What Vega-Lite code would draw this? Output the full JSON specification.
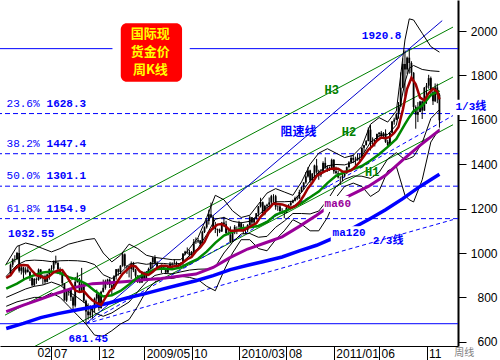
{
"$schema":"https://vega.github.io/schema/vega-lite/v6.json",
"width":458,"height":346,
"autosize":{"type":"none"},
"padding":{"left":0,"top":0,"right":42,"bottom":14},
"background":"white",
"config":{"view":{"stroke":null},"axis":{"grid":false}},
"datasets":{
"fib":[{"v":1628.3},{"v":1447.4},{"v":1301.1},{"v":1154.9}],
"hl":[{"v":1920.8},{"v":681.45}],
"chan":[{"d1":"2008-02-04","v1":945.5,"d2":"2012-01-29","v2":2018},{"d1":"2008-02-04","v1":720,"d2":"2012-01-29","v2":1793},{"d1":"2008-02-04","v1":508,"d2":"2012-01-29","v2":1578}],
"speed":[{"d1":"2008-10-24","v1":681.45,"d2":"2011-12-25","v2":2047}],
"speedd":[{"d1":"2008-10-24","v1":681.45,"d2":"2012-01-29","v2":1619.4},{"d1":"2008-10-24","v1":681.45,"d2":"2012-01-29","v2":1150.4}],
"candles":[
{"d":"2008-02-22","o":906,"h":953,"l":897,"c":947},{"d":"2008-02-29","o":947,"h":976,"l":935,"c":972},{"d":"2008-03-07","o":972,"h":990,"l":958,"c":973},{"d":"2008-03-14","o":973,"h":1005,"l":968,"c":1000},{"d":"2008-03-21","o":1000,"h":1032.55,"l":912,"c":920},{"d":"2008-03-28","o":920,"h":948,"l":903,"c":935},{"d":"2008-04-04","o":935,"h":938,"l":877,"c":912},{"d":"2008-04-11","o":912,"h":936,"l":903,"c":925},{"d":"2008-04-18","o":925,"h":937,"l":912,"c":914},{"d":"2008-04-25","o":914,"h":920,"l":874,"c":889},
{"d":"2008-05-02","o":889,"h":890,"l":850,"c":855},{"d":"2008-05-09","o":855,"h":887,"l":850,"c":883},{"d":"2008-05-16","o":883,"h":890,"l":861,"c":880},{"d":"2008-05-23","o":880,"h":930,"l":875,"c":925},{"d":"2008-05-30","o":925,"h":928,"l":882,"c":887},{"d":"2008-06-06","o":887,"h":902,"l":858,"c":895},{"d":"2008-06-13","o":895,"h":903,"l":860,"c":870},{"d":"2008-06-20","o":870,"h":907,"l":868,"c":903},{"d":"2008-06-27","o":903,"h":930,"l":880,"c":928},{"d":"2008-07-04","o":928,"h":945,"l":918,"c":930},
{"d":"2008-07-11","o":930,"h":966,"l":921,"c":962},{"d":"2008-07-18","o":962,"h":988,"l":948,"c":955},{"d":"2008-07-25","o":955,"h":962,"l":905,"c":928},{"d":"2008-08-01","o":928,"h":935,"l":900,"c":912},{"d":"2008-08-08","o":912,"h":914,"l":852,"c":864},{"d":"2008-08-15","o":864,"h":865,"l":786,"c":786},{"d":"2008-08-22","o":786,"h":838,"l":780,"c":829},{"d":"2008-08-29","o":829,"h":840,"l":808,"c":833},{"d":"2008-09-05","o":833,"h":836,"l":784,"c":801},{"d":"2008-09-12","o":801,"h":807,"l":740,"c":763},
{"d":"2008-09-19","o":763,"h":889,"l":755,"c":870},{"d":"2008-09-26","o":870,"h":912,"l":866,"c":880},{"d":"2008-10-03","o":880,"h":888,"l":823,"c":830},{"d":"2008-10-10","o":830,"h":933,"l":825,"c":860},{"d":"2008-10-17","o":860,"h":870,"l":776,"c":785},{"d":"2008-10-24","o":785,"h":790,"l":681.45,"c":737},{"d":"2008-10-31","o":737,"h":773,"l":700,"c":720},{"d":"2008-11-07","o":720,"h":764,"l":706,"c":735},{"d":"2008-11-14","o":735,"h":757,"l":705,"c":750},{"d":"2008-11-21","o":750,"h":800,"l":732,"c":795},
{"d":"2008-11-28","o":795,"h":835,"l":780,"c":815},{"d":"2008-12-05","o":815,"h":820,"l":740,"c":752},{"d":"2008-12-12","o":752,"h":830,"l":749,"c":825},{"d":"2008-12-19","o":825,"h":880,"l":822,"c":843},{"d":"2008-12-26","o":843,"h":880,"l":835,"c":872},{"d":"2009-01-02","o":872,"h":884,"l":857,"c":880},{"d":"2009-01-09","o":880,"h":886,"l":842,"c":855},{"d":"2009-01-16","o":855,"h":860,"l":806,"c":838},{"d":"2009-01-23","o":838,"h":900,"l":836,"c":895},{"d":"2009-01-30","o":895,"h":928,"l":880,"c":927},
{"d":"2009-02-06","o":927,"h":930,"l":898,"c":915},{"d":"2009-02-13","o":915,"h":945,"l":905,"c":943},{"d":"2009-02-20","o":943,"h":1005,"l":938,"c":994},{"d":"2009-02-27","o":994,"h":998,"l":933,"c":942},{"d":"2009-03-06","o":942,"h":945,"l":906,"c":940},{"d":"2009-03-13","o":940,"h":945,"l":890,"c":928},{"d":"2009-03-20","o":928,"h":962,"l":883,"c":953},{"d":"2009-03-27","o":953,"h":960,"l":914,"c":923},{"d":"2009-04-03","o":923,"h":928,"l":870,"c":898},{"d":"2009-04-10","o":898,"h":900,"l":865,"c":881},
{"d":"2009-04-17","o":881,"h":891,"l":864,"c":867},{"d":"2009-04-24","o":867,"h":917,"l":865,"c":912},{"d":"2009-05-01","o":912,"h":916,"l":880,"c":884},{"d":"2009-05-08","o":884,"h":919,"l":880,"c":915},{"d":"2009-05-15","o":915,"h":934,"l":909,"c":927},{"d":"2009-05-22","o":927,"h":960,"l":926,"c":958},{"d":"2009-05-29","o":958,"h":983,"l":930,"c":979},{"d":"2009-06-05","o":979,"h":990,"l":948,"c":953},{"d":"2009-06-12","o":953,"h":963,"l":935,"c":937},{"d":"2009-06-19","o":937,"h":945,"l":925,"c":933},
{"d":"2009-06-26","o":933,"h":948,"l":910,"c":942},{"d":"2009-07-03","o":942,"h":945,"l":925,"c":932},{"d":"2009-07-10","o":932,"h":934,"l":905,"c":912},{"d":"2009-07-17","o":912,"h":940,"l":910,"c":937},{"d":"2009-07-24","o":937,"h":960,"l":932,"c":952},{"d":"2009-07-31","o":952,"h":958,"l":928,"c":954},{"d":"2009-08-07","o":954,"h":972,"l":950,"c":956},{"d":"2009-08-14","o":956,"h":962,"l":935,"c":949},{"d":"2009-08-21","o":949,"h":953,"l":931,"c":952},{"d":"2009-08-28","o":952,"h":958,"l":935,"c":956},
{"d":"2009-09-04","o":956,"h":1000,"l":946,"c":997},{"d":"2009-09-11","o":997,"h":1010,"l":990,"c":1006},{"d":"2009-09-18","o":1006,"h":1025,"l":995,"c":1005},{"d":"2009-09-25","o":1005,"h":1015,"l":985,"c":990},{"d":"2009-10-02","o":990,"h":1009,"l":988,"c":1003},{"d":"2009-10-09","o":1003,"h":1063,"l":1000,"c":1049},{"d":"2009-10-16","o":1049,"h":1070,"l":1041,"c":1052},{"d":"2009-10-23","o":1052,"h":1068,"l":1045,"c":1057},{"d":"2009-10-30","o":1057,"h":1058,"l":1025,"c":1041},{"d":"2009-11-06","o":1041,"h":1100,"l":1040,"c":1095},
{"d":"2009-11-13","o":1095,"h":1120,"l":1090,"c":1116},{"d":"2009-11-20","o":1116,"h":1155,"l":1110,"c":1144},{"d":"2009-11-27","o":1144,"h":1195,"l":1128,"c":1175},{"d":"2009-12-04","o":1175,"h":1227,"l":1158,"c":1162},{"d":"2009-12-11","o":1162,"h":1170,"l":1105,"c":1117},{"d":"2009-12-18","o":1117,"h":1140,"l":1090,"c":1108},{"d":"2009-12-25","o":1108,"h":1110,"l":1075,"c":1104},{"d":"2010-01-01","o":1104,"h":1110,"l":1090,"c":1097},{"d":"2010-01-08","o":1097,"h":1140,"l":1095,"c":1137},{"d":"2010-01-15","o":1137,"h":1163,"l":1120,"c":1130},
{"d":"2010-01-22","o":1130,"h":1145,"l":1085,"c":1090},{"d":"2010-01-29","o":1090,"h":1113,"l":1080,"c":1082},{"d":"2010-02-05","o":1082,"h":1120,"l":1045,"c":1050},{"d":"2010-02-12","o":1050,"h":1094,"l":1050,"c":1093},{"d":"2010-02-19","o":1093,"h":1126,"l":1085,"c":1118},{"d":"2010-02-26","o":1118,"h":1120,"l":1085,"c":1118},{"d":"2010-03-05","o":1118,"h":1145,"l":1110,"c":1134},{"d":"2010-03-12","o":1134,"h":1140,"l":1100,"c":1102},{"d":"2010-03-19","o":1102,"h":1130,"l":1085,"c":1108},{"d":"2010-03-26","o":1108,"h":1112,"l":1087,"c":1104},
{"d":"2010-04-02","o":1104,"h":1130,"l":1095,"c":1126},{"d":"2010-04-09","o":1126,"h":1168,"l":1123,"c":1161},{"d":"2010-04-16","o":1161,"h":1162,"l":1125,"c":1137},{"d":"2010-04-23","o":1137,"h":1158,"l":1130,"c":1156},{"d":"2010-04-30","o":1156,"h":1180,"l":1150,"c":1179},{"d":"2010-05-07","o":1179,"h":1212,"l":1164,"c":1210},{"d":"2010-05-14","o":1210,"h":1249,"l":1205,"c":1229},{"d":"2010-05-21","o":1229,"h":1232,"l":1166,"c":1176},{"d":"2010-05-28","o":1176,"h":1217,"l":1170,"c":1212},{"d":"2010-06-04","o":1212,"h":1222,"l":1195,"c":1218},
{"d":"2010-06-11","o":1218,"h":1250,"l":1207,"c":1228},{"d":"2010-06-18","o":1228,"h":1262,"l":1220,"c":1256},{"d":"2010-06-25","o":1256,"h":1265,"l":1226,"c":1256},{"d":"2010-07-02","o":1256,"h":1262,"l":1195,"c":1209},{"d":"2010-07-09","o":1209,"h":1215,"l":1190,"c":1210},{"d":"2010-07-16","o":1210,"h":1216,"l":1185,"c":1189},{"d":"2010-07-23","o":1189,"h":1202,"l":1176,"c":1189},{"d":"2010-07-30","o":1189,"h":1193,"l":1157,"c":1181},{"d":"2010-08-06","o":1181,"h":1213,"l":1180,"c":1204},{"d":"2010-08-13","o":1204,"h":1220,"l":1193,"c":1215},
{"d":"2010-08-20","o":1215,"h":1235,"l":1213,"c":1227},{"d":"2010-08-27","o":1227,"h":1241,"l":1224,"c":1236},{"d":"2010-09-03","o":1236,"h":1254,"l":1232,"c":1248},{"d":"2010-09-10","o":1248,"h":1259,"l":1238,"c":1246},{"d":"2010-09-17","o":1246,"h":1285,"l":1244,"c":1275},{"d":"2010-09-24","o":1275,"h":1299,"l":1272,"c":1297},{"d":"2010-10-01","o":1297,"h":1319,"l":1285,"c":1318},{"d":"2010-10-08","o":1318,"h":1365,"l":1312,"c":1345},{"d":"2010-10-15","o":1345,"h":1387,"l":1340,"c":1372},{"d":"2010-10-22","o":1372,"h":1375,"l":1316,"c":1326},
{"d":"2010-10-29","o":1326,"h":1360,"l":1320,"c":1358},{"d":"2010-11-05","o":1358,"h":1398,"l":1325,"c":1394},{"d":"2010-11-12","o":1394,"h":1424,"l":1357,"c":1366},{"d":"2010-11-19","o":1366,"h":1375,"l":1330,"c":1350},{"d":"2010-11-26","o":1350,"h":1378,"l":1342,"c":1364},{"d":"2010-12-03","o":1364,"h":1413,"l":1360,"c":1406},{"d":"2010-12-10","o":1406,"h":1431,"l":1380,"c":1385},{"d":"2010-12-17","o":1385,"h":1395,"l":1366,"c":1377},{"d":"2010-12-24","o":1377,"h":1390,"l":1370,"c":1380},{"d":"2010-12-31","o":1380,"h":1425,"l":1378,"c":1420},
{"d":"2011-01-07","o":1420,"h":1423,"l":1357,"c":1368},{"d":"2011-01-14","o":1368,"h":1389,"l":1355,"c":1360},{"d":"2011-01-21","o":1360,"h":1372,"l":1336,"c":1341},{"d":"2011-01-28","o":1341,"h":1345,"l":1308,"c":1340},{"d":"2011-02-04","o":1340,"h":1357,"l":1324,"c":1348},{"d":"2011-02-11","o":1348,"h":1367,"l":1342,"c":1360},{"d":"2011-02-18","o":1360,"h":1390,"l":1356,"c":1387},{"d":"2011-02-25","o":1387,"h":1414,"l":1381,"c":1409},{"d":"2011-03-04","o":1409,"h":1440,"l":1403,"c":1428},{"d":"2011-03-11","o":1428,"h":1444,"l":1405,"c":1420},
{"d":"2011-03-18","o":1420,"h":1434,"l":1381,"c":1418},{"d":"2011-03-25","o":1418,"h":1448,"l":1416,"c":1430},{"d":"2011-04-01","o":1430,"h":1447,"l":1415,"c":1429},{"d":"2011-04-08","o":1429,"h":1476,"l":1428,"c":1474},{"d":"2011-04-15","o":1474,"h":1487,"l":1453,"c":1486},{"d":"2011-04-22","o":1486,"h":1509,"l":1484,"c":1504},{"d":"2011-04-29","o":1504,"h":1566,"l":1504,"c":1556},{"d":"2011-05-06","o":1556,"h":1577,"l":1462,"c":1491},{"d":"2011-05-13","o":1491,"h":1521,"l":1479,"c":1492},{"d":"2011-05-20","o":1492,"h":1512,"l":1480,"c":1509},
{"d":"2011-05-27","o":1509,"h":1538,"l":1504,"c":1536},{"d":"2011-06-03","o":1536,"h":1545,"l":1520,"c":1542},{"d":"2011-06-10","o":1542,"h":1550,"l":1522,"c":1529},{"d":"2011-06-17","o":1529,"h":1545,"l":1515,"c":1539},{"d":"2011-06-24","o":1539,"h":1557,"l":1496,"c":1501},{"d":"2011-07-01","o":1501,"h":1510,"l":1478,"c":1485},{"d":"2011-07-08","o":1485,"h":1545,"l":1483,"c":1542},{"d":"2011-07-15","o":1542,"h":1595,"l":1540,"c":1592},{"d":"2011-07-22","o":1592,"h":1610,"l":1578,"c":1601},{"d":"2011-07-29","o":1601,"h":1632,"l":1600,"c":1625},
{"d":"2011-08-05","o":1625,"h":1680,"l":1605,"c":1660},{"d":"2011-08-12","o":1660,"h":1814,"l":1660,"c":1745},{"d":"2011-08-19","o":1745,"h":1877,"l":1742,"c":1852},{"d":"2011-08-26","o":1852,"h":1913,"l":1705,"c":1827},{"d":"2011-09-02","o":1827,"h":1885,"l":1807,"c":1880},{"d":"2011-09-09","o":1880,"h":1920.8,"l":1808,"c":1856},{"d":"2011-09-16","o":1856,"h":1864,"l":1777,"c":1812},{"d":"2011-09-23","o":1812,"h":1815,"l":1630,"c":1658},{"d":"2011-09-30","o":1658,"h":1665,"l":1560,"c":1623},{"d":"2011-10-07","o":1623,"h":1680,"l":1590,"c":1635},
{"d":"2011-10-14","o":1635,"h":1686,"l":1635,"c":1683},{"d":"2011-10-21","o":1683,"h":1687,"l":1604,"c":1642},{"d":"2011-10-28","o":1642,"h":1748,"l":1640,"c":1745},{"d":"2011-11-04","o":1745,"h":1766,"l":1672,"c":1754},{"d":"2011-11-11","o":1754,"h":1803,"l":1740,"c":1788},{"d":"2011-11-18","o":1788,"h":1795,"l":1705,"c":1724},{"d":"2011-11-25","o":1724,"h":1730,"l":1667,"c":1684},{"d":"2011-12-02","o":1684,"h":1764,"l":1680,"c":1746},{"d":"2011-12-09","o":1746,"h":1763,"l":1675,"c":1713},{"d":"2011-12-16","o":1713,"h":1720,"l":1565,"c":1598}
],
"red":[
{"d":"2008-02-08","v":888},{"d":"2008-02-22","v":900},{"d":"2008-03-07","v":928},{"d":"2008-03-21","v":944},{"d":"2008-04-04","v":946},{"d":"2008-04-18","v":944},{"d":"2008-05-02","v":919},{"d":"2008-05-16","v":899},{"d":"2008-05-30","v":895},{"d":"2008-06-13","v":886},{"d":"2008-06-27","v":896},{"d":"2008-07-11","v":913},{"d":"2008-07-25","v":921},{"d":"2008-08-08","v":923},{"d":"2008-08-22","v":896},{"d":"2008-09-05","v":864},{"d":"2008-09-19","v":832},{"d":"2008-10-03","v":824},{"d":"2008-10-17","v":828},{"d":"2008-10-31","v":806},{"d":"2008-11-14","v":787},{"d":"2008-11-28","v":775},{"d":"2008-12-12","v":766},{"d":"2008-12-26","v":798},
{"d":"2009-01-09","v":830},{"d":"2009-01-23","v":845},{"d":"2009-02-06","v":878},{"d":"2009-02-20","v":906},{"d":"2009-03-06","v":924},{"d":"2009-03-20","v":943},{"d":"2009-04-03","v":940},{"d":"2009-04-17","v":917},{"d":"2009-05-01","v":906},{"d":"2009-05-15","v":901},{"d":"2009-05-29","v":915},{"d":"2009-06-12","v":933},{"d":"2009-06-26","v":943},{"d":"2009-07-10","v":943},{"d":"2009-07-24","v":937},{"d":"2009-08-07","v":940},{"d":"2009-08-21","v":943},{"d":"2009-09-04","v":957},{"d":"2009-09-18","v":972},{"d":"2009-10-02","v":982},{"d":"2009-10-16","v":1007},{"d":"2009-10-30","v":1025},{"d":"2009-11-13","v":1050},{"d":"2009-11-27","v":1091},{"d":"2009-12-11","v":1113},{"d":"2009-12-25","v":1128},
{"d":"2010-01-08","v":1131},{"d":"2010-01-22","v":1118},{"d":"2010-02-05","v":1100},{"d":"2010-02-19","v":1100},{"d":"2010-03-05","v":1102},{"d":"2010-03-19","v":1101},{"d":"2010-04-02","v":1113},{"d":"2010-04-16","v":1124},{"d":"2010-04-30","v":1134},{"d":"2010-05-14","v":1163},{"d":"2010-05-28","v":1183},{"d":"2010-06-11","v":1201},{"d":"2010-06-25","v":1223},{"d":"2010-07-09","v":1221},{"d":"2010-07-23","v":1219},{"d":"2010-08-06","v":1212},{"d":"2010-08-20","v":1203},{"d":"2010-09-03","v":1211},{"d":"2010-09-17","v":1229},{"d":"2010-10-01","v":1258},{"d":"2010-10-15","v":1292},{"d":"2010-10-29","v":1317},{"d":"2010-11-12","v":1347},{"d":"2010-11-26","v":1359},{"d":"2010-12-10","v":1369},{"d":"2010-12-24","v":1378},
{"d":"2011-01-07","v":1381},{"d":"2011-01-21","v":1380},{"d":"2011-02-04","v":1367},{"d":"2011-02-18","v":1366},{"d":"2011-03-04","v":1372},{"d":"2011-03-18","v":1389},{"d":"2011-04-01","v":1410},{"d":"2011-04-15","v":1437},{"d":"2011-04-29","v":1465},{"d":"2011-05-13","v":1483},{"d":"2011-05-27","v":1506},{"d":"2011-06-10","v":1520},{"d":"2011-06-24","v":1517},{"d":"2011-07-08","v":1523},{"d":"2011-07-22","v":1541},{"d":"2011-08-05","v":1568},{"d":"2011-08-19","v":1645},{"d":"2011-09-02","v":1740},{"d":"2011-09-16","v":1790},{"d":"2011-09-30","v":1760},{"d":"2011-10-14","v":1700},{"d":"2011-10-28","v":1688},{"d":"2011-11-11","v":1720},{"d":"2011-11-25","v":1740},{"d":"2011-12-09","v":1728},{"d":"2011-12-16","v":1692}
],
"mid":[
{"d":"2008-02-08","m20":840,"u1":950,"u2":895,"l2":800,"l1":760},{"d":"2008-03-14","m20":862,"u1":1030,"u2":946,"l2":821,"l1":780},{"d":"2008-04-11","m20":885,"u1":1045,"u2":965,"l2":838,"l1":790},{"d":"2008-05-09","m20":900,"u1":1035,"u2":968,"l2":850,"l1":800},{"d":"2008-06-06","m20":912,"u1":1020,"u2":966,"l2":856,"l1":800},{"d":"2008-07-04","m20":917,"u1":1005,"u2":961,"l2":869,"l1":820},{"d":"2008-08-01","m20":910,"u1":1020,"u2":965,"l2":855,"l1":800},{"d":"2008-08-29","m20":891,"u1":1040,"u2":966,"l2":826,"l1":760},{"d":"2008-09-26","m20":880,"u1":1050,"u2":965,"l2":800,"l1":720},{"d":"2008-10-24","m20":861,"u1":1060,"u2":961,"l2":771,"l1":680},{"d":"2008-11-21","m20":830,"u1":1065,"u2":948,"l2":730,"l1":630},{"d":"2008-12-19","m20":804,"u1":1000,"u2":902,"l2":715,"l1":625},
{"d":"2009-01-16","m20":810,"u1":960,"u2":885,"l2":730,"l1":650},{"d":"2009-02-13","m20":829,"u1":990,"u2":910,"l2":755,"l1":680},{"d":"2009-03-13","m20":858,"u1":1040,"u2":949,"l2":779,"l1":700},{"d":"2009-04-10","m20":891,"u1":1020,"u2":956,"l2":826,"l1":760},{"d":"2009-05-08","m20":908,"u1":990,"u2":949,"l2":869,"l1":830},{"d":"2009-06-05","m20":927,"u1":980,"u2":954,"l2":899,"l1":870},{"d":"2009-07-03","m20":930,"u1":975,"u2":953,"l2":908,"l1":885},{"d":"2009-07-31","m20":927,"u1":970,"u2":949,"l2":906,"l1":885},{"d":"2009-08-28","m20":935,"u1":970,"u2":953,"l2":915,"l1":895},{"d":"2009-09-25","m20":956,"u1":1020,"u2":988,"l2":923,"l1":890},{"d":"2009-10-23","m20":974,"u1":1070,"u2":1022,"l2":927,"l1":880},{"d":"2009-11-20","m20":1006,"u1":1160,"u2":1083,"l2":928,"l1":850},{"d":"2009-12-18","m20":1046,"u1":1260,"u2":1153,"l2":938,"l1":830},
{"d":"2010-01-15","m20":1079,"u1":1240,"u2":1160,"l2":1000,"l1":920},{"d":"2010-02-12","m20":1095,"u1":1190,"u2":1143,"l2":1048,"l1":1000},{"d":"2010-03-12","m20":1111,"u1":1160,"u2":1136,"l2":1086,"l1":1060},{"d":"2010-04-09","m20":1116,"u1":1170,"u2":1143,"l2":1088,"l1":1060},{"d":"2010-05-07","m20":1122,"u1":1220,"u2":1171,"l2":1071,"l1":1020},{"d":"2010-06-04","m20":1140,"u1":1270,"u2":1205,"l2":1075,"l1":1010},{"d":"2010-07-02","m20":1172,"u1":1290,"u2":1231,"l2":1116,"l1":1060},{"d":"2010-07-30","m20":1187,"u1":1275,"u2":1231,"l2":1144,"l1":1100},{"d":"2010-08-27","m20":1206,"u1":1260,"u2":1233,"l2":1178,"l1":1150},{"d":"2010-09-24","m20":1225,"u1":1320,"u2":1273,"l2":1178,"l1":1130},{"d":"2010-10-22","m20":1251,"u1":1400,"u2":1326,"l2":1176,"l1":1100},{"d":"2010-11-19","m20":1277,"u1":1450,"u2":1364,"l2":1189,"l1":1100},{"d":"2010-12-17","m20":1315,"u1":1470,"u2":1393,"l2":1238,"l1":1160},
{"d":"2011-01-14","m20":1348,"u1":1450,"u2":1399,"l2":1299,"l1":1250},{"d":"2011-02-11","m20":1364,"u1":1430,"u2":1397,"l2":1332,"l1":1300},{"d":"2011-03-11","m20":1378,"u1":1440,"u2":1409,"l2":1347,"l1":1315},{"d":"2011-04-08","m20":1392,"u1":1480,"u2":1436,"l2":1346,"l1":1300},{"d":"2011-05-06","m20":1417,"u1":1580,"u2":1499,"l2":1336,"l1":1255},{"d":"2011-06-03","m20":1445,"u1":1610,"u2":1528,"l2":1363,"l1":1280},{"d":"2011-07-01","m20":1478,"u1":1590,"u2":1534,"l2":1424,"l1":1370},{"d":"2011-07-29","m20":1514,"u1":1640,"u2":1577,"l2":1452,"l1":1390},{"d":"2011-08-26","m20":1581,"u1":1960,"u2":1770,"l2":1420,"l1":1260},{"d":"2011-09-09","m20":1612,"u1":2055,"u2":1833,"l2":1426,"l1":1240},{"d":"2011-09-23","m20":1639,"u1":2050,"u2":1845,"l2":1435,"l1":1230},{"d":"2011-10-21","m20":1664,"u1":1990,"u2":1827,"l2":1497,"l1":1330},{"d":"2011-11-18","m20":1712,"u1":1930,"u2":1821,"l2":1606,"l1":1500},{"d":"2011-12-16","m20":1731,"u1":1905,"u2":1818,"l2":1646,"l1":1560}
],
"slow":[
{"d":"2008-02-08","m60":736,"m120":660},{"d":"2008-04-04","m60":765,"m120":683},{"d":"2008-05-30","m60":792,"m120":709},{"d":"2008-07-25","m60":820,"m120":727},{"d":"2008-09-19","m60":845,"m120":742},{"d":"2008-11-14","m60":862,"m120":757},{"d":"2009-01-09","m60":866,"m120":776},{"d":"2009-03-06","m60":872,"m120":797},{"d":"2009-05-01","m60":879,"m120":816},{"d":"2009-06-26","m60":885,"m120":836},{"d":"2009-08-21","m60":895,"m120":856},{"d":"2009-10-16","m60":905,"m120":875},{"d":"2009-12-11","m60":935,"m120":898},
{"d":"2010-02-05","m60":980,"m120":925},{"d":"2010-04-02","m60":1018,"m120":945},{"d":"2010-05-28","m60":1045,"m120":963},{"d":"2010-07-23","m60":1073,"m120":982},{"d":"2010-09-17","m60":1120,"m120":1010},{"d":"2010-11-12","m60":1170,"m120":1035},{"d":"2011-01-07","m60":1225,"m120":1068},{"d":"2011-03-04","m60":1262,"m120":1108},{"d":"2011-04-29","m60":1300,"m120":1150},{"d":"2011-06-24","m60":1350,"m120":1195},{"d":"2011-08-19","m60":1420,"m120":1245},{"d":"2011-10-14","m60":1485,"m120":1300},{"d":"2011-12-16","m60":1554,"m120":1355}
],
"wbox":[{"d1":"2009-01-18","d2":"2009-09-26","v1":1734,"v2":2072},{"d1":"2012-01-28","d2":"2012-05-22","v1":1622,"v2":1690},{"d1":"2010-12-05","d2":"2011-02-24","v1":1185,"v2":1257},{"d1":"2010-12-28","d2":"2011-04-24","v1":1054,"v2":1121}],
"tbox":[{"d1":"2009-02-14","d2":"2009-09-01","v1":1772,"v2":2035}],
"pct":[{"d":"2008-02-09","v":1670,"t":"23.6%"},{"d":"2008-02-09","v":1489,"t":"38.2%"},{"d":"2008-02-09","v":1348,"t":"50.0%"},{"d":"2008-02-09","v":1197,"t":"61.8%"}],
"bluelab":[{"d":"2008-06-18","v":1670,"t":"1628.3"},{"d":"2008-06-18","v":1489,"t":"1447.4"},{"d":"2008-06-18","v":1348,"t":"1301.1"},{"d":"2008-06-18","v":1197,"t":"1154.9"},{"d":"2008-02-14","v":1085,"t":"1032.55"},{"d":"2008-08-28","v":612,"t":"681.45"},{"d":"2011-04-08","v":1978,"t":"1920.8"},{"d":"2012-02-06","v":1657,"t":"1/3线"},{"d":"2011-05-13","v":1052,"t":"2/3线"},{"d":"2011-01-03","v":1088,"t":"ma120"}],
"zsx":[{"d":"2010-07-18","v":1547,"t":"阻速线"}],
"hlab":[{"d":"2010-12-08","v":1734,"t":"H3"},{"d":"2011-02-02","v":1543,"t":"H2"},{"d":"2011-04-18","v":1363,"t":"H1"}],
"plab":[{"d":"2010-12-08","v":1223,"t":"ma60"}],
"title":[{"d":"2009-05-21","v":2016,"t":"国际现\n货金价\n周K线"}],
"x02":[{"d":"2008-07-02","v":549,"t":"02"}],
"zx":[{"d":"2012-02-02","v":549,"t":"周线"}]
},
"layer":[
{"data":{"name":"fib"},"mark":{"type":"rule","color":"#0000ff","strokeWidth":1,"strokeDash":[5,3]},
 "encoding":{"y":{"field":"v","type":"quantitative","scale":{"domain":[581,2140],"nice":false,"zero":false},
  "axis":{"orient":"right","title":null,"values":[600,800,1000,1200,1400,1600,1800,2000],"format":"d","tickSize":8,"tickColor":"black","domainColor":"black","domainWidth":2,"labelAlign":"right","labelPadding":31,"labelFont":"Liberation Sans","labelFontSize":12,"labelColor":"black","labelBaseline":"middle","labelOverlap":false,"labelBound":false,"labelFlush":false,"grid":false}}}},
{"data":{"name":"hl"},"mark":{"type":"rule","color":"#0000ff","strokeWidth":1},"encoding":{"y":{"field":"v","type":"quantitative"}}},
{"data":{"name":"chan","format":{"parse":{"d1":"date","d2":"date"}}},"mark":{"type":"rule","color":"#008000","strokeWidth":1,"clip":true},
 "encoding":{"x":{"field":"d1","type":"temporal","scale":{"type":"utc","nice":false,"domain":[{"year":2008,"month":2,"date":4,"utc":true},{"year":2012,"month":1,"date":29,"utc":true}]},
  "axis":{"orient":"bottom","title":null,"values":[{"year":2008,"month":7,"date":4,"utc":true},{"year":2008,"month":12,"date":5,"utc":true},{"year":2009,"month":5,"date":1,"utc":true},{"year":2009,"month":10,"date":2,"utc":true},{"year":2010,"month":3,"date":5,"utc":true},{"year":2010,"month":8,"date":6,"utc":true},{"year":2011,"month":1,"date":7,"utc":true},{"year":2011,"month":6,"date":3,"utc":true},{"year":2011,"month":11,"date":4,"utc":true}],
   "labelExpr":"utcmonth(datum.value) < 5 ? utcFormat(datum.value, '%Y/%m') : utcFormat(datum.value, '%m')","tickSize":14,"tickColor":"black","domainColor":"black","domainWidth":1,"labelAlign":"left","labelBaseline":"top","labelPadding":-12,"labelOffset":2,"labelFont":"Liberation Sans","labelFontSize":12,"labelColor":"black","labelOverlap":false,"labelBound":false,"labelFlush":false,"grid":false}},
  "x2":{"field":"d2"},"y":{"field":"v1","type":"quantitative"},"y2":{"field":"v2"}}},
{"data":{"name":"speed","format":{"parse":{"d1":"date","d2":"date"}}},"mark":{"type":"rule","color":"#0000cc","strokeWidth":1,"clip":true},
 "encoding":{"x":{"field":"d1","type":"temporal"},"x2":{"field":"d2"},"y":{"field":"v1","type":"quantitative"},"y2":{"field":"v2"}}},
{"data":{"name":"speedd","format":{"parse":{"d1":"date","d2":"date"}}},"mark":{"type":"rule","color":"#0000ff","strokeWidth":1,"strokeDash":[4,3],"clip":true},
 "encoding":{"x":{"field":"d1","type":"temporal"},"x2":{"field":"d2"},"y":{"field":"v1","type":"quantitative"},"y2":{"field":"v2"}}},
{"data":{"name":"mid"},"transform":[{"fold":["u1","u2","l2","l1"],"as":["k","bv"]}],"mark":{"type":"line","color":"black","strokeWidth":1},
 "encoding":{"x":{"field":"d","type":"temporal"},"y":{"field":"bv","type":"quantitative"},"detail":{"field":"k"}}},
{"data":{"name":"candles"},"mark":{"type":"rule","color":"black","strokeWidth":1},
 "encoding":{"x":{"field":"d","type":"temporal"},"y":{"field":"l","type":"quantitative"},"y2":{"field":"h"}}},
{"data":{"name":"candles"},"mark":{"type":"bar","color":"black","size":1.8},
 "encoding":{"x":{"field":"d","type":"temporal"},"y":{"field":"o","type":"quantitative"},"y2":{"field":"c"}}},
{"data":{"name":"slow"},"mark":{"type":"line","color":"#0000ff","strokeWidth":3.5},
 "encoding":{"x":{"field":"d","type":"temporal"},"y":{"field":"m120","type":"quantitative"}}},
{"data":{"name":"slow"},"mark":{"type":"line","color":"#990099","strokeWidth":3},
 "encoding":{"x":{"field":"d","type":"temporal"},"y":{"field":"m60","type":"quantitative"}}},
{"data":{"name":"mid"},"mark":{"type":"line","color":"#008800","strokeWidth":2.5},
 "encoding":{"x":{"field":"d","type":"temporal"},"y":{"field":"m20","type":"quantitative"}}},
{"data":{"name":"red"},"mark":{"type":"line","color":"#a00000","strokeWidth":2.5},
 "encoding":{"x":{"field":"d","type":"temporal"},"y":{"field":"v","type":"quantitative"}}},
{"data":{"name":"wbox","format":{"parse":{"d1":"date","d2":"date"}}},"mark":{"type":"rect","color":"white"},
 "encoding":{"x":{"field":"d1","type":"temporal"},"x2":{"field":"d2"},"y":{"field":"v1","type":"quantitative"},"y2":{"field":"v2"}}},
{"data":{"name":"tbox","format":{"parse":{"d1":"date","d2":"date"}}},"mark":{"type":"rect","color":"#ff0000","cornerRadius":6},
 "encoding":{"x":{"field":"d1","type":"temporal"},"x2":{"field":"d2"},"y":{"field":"v1","type":"quantitative"},"y2":{"field":"v2"}}},
{"data":{"name":"pct"},"mark":{"type":"text","color":"#0000ff","font":"Liberation Mono","fontSize":11,"align":"left","baseline":"middle"},
 "encoding":{"x":{"field":"d","type":"temporal"},"y":{"field":"v","type":"quantitative"},"text":{"field":"t"}}},
{"data":{"name":"bluelab"},"mark":{"type":"text","color":"#0000ff","font":"Liberation Mono, Noto Sans CJK SC","fontSize":11,"fontWeight":"bold","align":"left","baseline":"middle"},
 "encoding":{"x":{"field":"d","type":"temporal"},"y":{"field":"v","type":"quantitative"},"text":{"field":"t"}}},
{"data":{"name":"zsx"},"mark":{"type":"text","color":"#0000ff","font":"Noto Sans CJK SC","fontSize":12,"fontWeight":"bold","align":"left","baseline":"middle"},
 "encoding":{"x":{"field":"d","type":"temporal"},"y":{"field":"v","type":"quantitative"},"text":{"field":"t"}}},
{"data":{"name":"hlab"},"mark":{"type":"text","color":"#008000","font":"Liberation Mono","fontSize":12,"fontWeight":"bold","align":"left","baseline":"middle"},
 "encoding":{"x":{"field":"d","type":"temporal"},"y":{"field":"v","type":"quantitative"},"text":{"field":"t"}}},
{"data":{"name":"plab"},"mark":{"type":"text","color":"#990099","font":"Liberation Mono","fontSize":11,"fontWeight":"bold","align":"left","baseline":"middle"},
 "encoding":{"x":{"field":"d","type":"temporal"},"y":{"field":"v","type":"quantitative"},"text":{"field":"t"}}},
{"data":{"name":"title"},"mark":{"type":"text","color":"#ffff00","font":"Noto Sans CJK SC","fontSize":13,"fontWeight":"bold","align":"center","baseline":"top","lineBreak":"\n","lineHeight":18},
 "encoding":{"x":{"field":"d","type":"temporal"},"y":{"field":"v","type":"quantitative"},"text":{"field":"t"}}},
{"data":{"name":"x02"},"mark":{"type":"text","color":"black","font":"Liberation Sans","fontSize":12,"align":"right","baseline":"middle"},
 "encoding":{"x":{"field":"d","type":"temporal"},"y":{"field":"v","type":"quantitative"},"text":{"field":"t"}}},
{"data":{"name":"zx"},"mark":{"type":"text","color":"#808080","font":"Noto Sans CJK SC","fontSize":10,"align":"left","baseline":"middle"},
 "encoding":{"x":{"field":"d","type":"temporal"},"y":{"field":"v","type":"quantitative"},"text":{"field":"t"}}}
]
}
